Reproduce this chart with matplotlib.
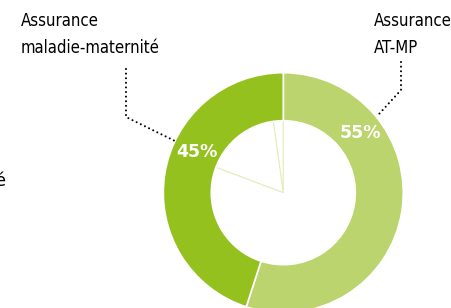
import matplotlib.pyplot as plt
import numpy as np

# données
labels = ['Assurance\nAT-MP', 'Assurance\nmaladie-maternité']
parts = [55, 45]
couleurs = ['#bcd46e', '#95c11f']
# petites tranches visibles dans le trou central (en degrés)
trou = [8, 61.4, 290.6]

plt.rcParams['font.family'] = ['DejaVu Sans']

fig = plt.figure(figsize=(4.52, 3.08), dpi=100)
ax = fig.add_axes([0, 0, 1, 1])

# tranches fines dans le trou (dessinées en premier)
ax.pie(trou, colors=['white'] * 3, startangle=90, radius=0.6,
       wedgeprops=dict(edgecolor='#e3ecb8', linewidth=0.7))

# anneau principal
ax.pie(parts, colors=couleurs, startangle=90, counterclock=False, radius=1,
       wedgeprops=dict(width=0.4, edgecolor='white', linewidth=1.2))

# pourcentages
ax.text(0.64, 0.50, f'{parts[0]}%', color='white', fontsize=12.5, fontweight='bold',
        ha='center', va='center')
ax.text(-0.72, 0.34, f'{parts[1]}%', color='white', fontsize=12.5, fontweight='bold',
        ha='center', va='center')

# étiquettes
ax.text(-2.19, 1.51, labels[1], fontsize=12, va='top', ha='left', linespacing=1.65,
        fontstretch='condensed')
ax.text(0.755, 1.51, labels[0], fontsize=12, va='top', ha='left', linespacing=1.65,
        fontstretch='condensed')
ax.text(-2.40, 0.10, 'é', fontsize=13, va='center', ha='left')

# traits pointillés
ax.plot([-1.311, -1.311, -0.903], [1.031, 0.631, 0.431], color='black',
        linestyle=(0, (0.01, 2.2)), linewidth=1.5, dash_capstyle='round')
ax.plot([0.981, 0.981, 0.798], [1.089, 0.856, 0.656], color='black',
        linestyle=(0, (0.01, 2.2)), linewidth=1.5, dash_capstyle='round')

ax.set_xlim(-2.361, 1.406)
ax.set_ylim(-0.961, 1.606)
ax.set_aspect('auto')
ax.axis('off')

plt.savefig('out.png', dpi=100)
